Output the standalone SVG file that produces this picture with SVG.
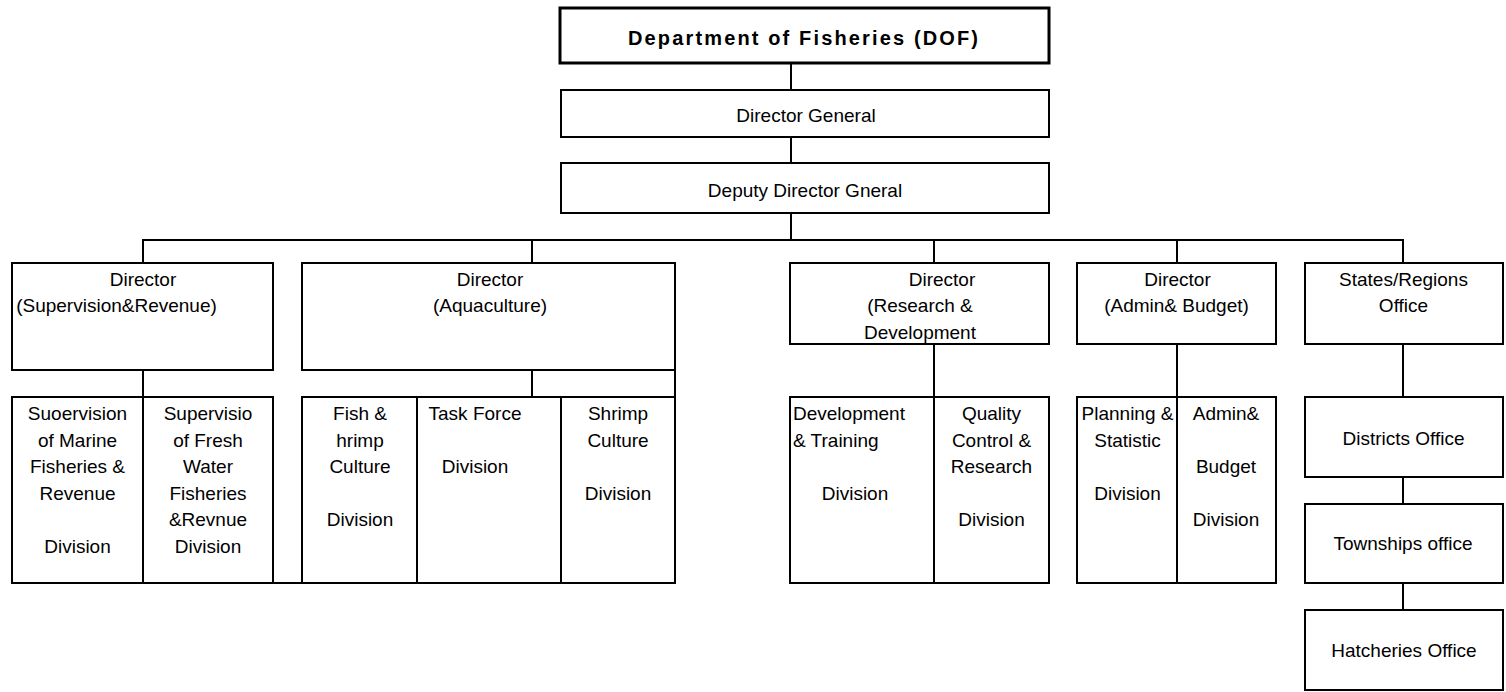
<svg xmlns="http://www.w3.org/2000/svg" width="1506" height="692" viewBox="0 0 1506 692">
<style>
  .box { fill: #ffffff; stroke: #000000; stroke-width: 2; }
  .box-main { fill: #ffffff; stroke: #000000; stroke-width: 3; }
  .conn line { stroke: #000000; stroke-width: 2; }
  text { font-family: "Liberation Sans", Arial, sans-serif; font-size: 19px; fill: #000000; }
  .c { text-anchor: middle; }
  .l { text-anchor: start; }
  .title { font-weight: bold; font-size: 20px; text-anchor: middle; }
</style>
<rect width="1506" height="692" fill="#ffffff"/>

<g id="connectors" class="conn">
  <line x1="791" y1="63" x2="791" y2="90"/>
  <line x1="791" y1="137" x2="791" y2="163"/>
  <line x1="791" y1="213" x2="791" y2="240"/>
  <line x1="142" y1="240" x2="1404" y2="240"/>
  <line x1="143" y1="240" x2="143" y2="263"/>
  <line x1="532" y1="240" x2="532" y2="263"/>
  <line x1="934" y1="240" x2="934" y2="263"/>
  <line x1="1177" y1="240" x2="1177" y2="263"/>
  <line x1="1403" y1="240" x2="1403" y2="263"/>
  <line x1="143" y1="370" x2="143" y2="397"/>
  <line x1="532" y1="370" x2="532" y2="397"/>
  <line x1="675" y1="370" x2="675" y2="397"/>
  <line x1="934" y1="344" x2="934" y2="397"/>
  <line x1="1177" y1="344" x2="1177" y2="397"/>
  <line x1="1403" y1="344" x2="1403" y2="397"/>
  <line x1="1403" y1="477" x2="1403" y2="504"/>
  <line x1="1403" y1="583" x2="1403" y2="610"/>
  <line x1="273" y1="583" x2="302" y2="583"/>
</g>

<g id="dof">
  <rect class="box-main" x="560" y="8" width="489" height="55"/>
  <text class="title" x="803" y="45" textLength="350" lengthAdjust="spacing">Department of Fisheries (DOF)</text>
</g>
<g id="director-general">
  <rect class="box" x="561" y="90" width="488" height="47"/>
  <text class="c" x="806" y="122">Director General</text>
</g>
<g id="deputy-director-general">
  <rect class="box" x="561" y="163" width="488" height="50"/>
  <text class="c" x="805" y="197">Deputy Director Gneral</text>
</g>

<g id="dir-supervision">
  <rect class="box" x="12" y="263" width="261" height="107"/>
  <text class="c" x="143" y="285.5">Director</text>
  <text class="c" x="116.5" y="312">(Supervision&amp;Revenue)</text>
</g>
<g id="dir-aquaculture">
  <rect class="box" x="302" y="263" width="373" height="107"/>
  <text class="c" x="490" y="285.5">Director</text>
  <text class="c" x="490" y="312">(Aquaculture)</text>
</g>
<g id="dir-research">
  <rect class="box" x="790" y="263" width="259" height="81"/>
  <text class="c" x="942" y="285.5">Director</text>
  <text class="c" x="920" y="312">(Research &amp;</text>
  <text class="c" x="920" y="338.5">Development</text>
</g>
<g id="dir-admin">
  <rect class="box" x="1077" y="263" width="199" height="81"/>
  <text class="c" x="1177.5" y="285.5">Director</text>
  <text class="c" x="1176.5" y="312">(Admin&amp; Budget)</text>
</g>
<g id="states-regions">
  <rect class="box" x="1305" y="263" width="198" height="81"/>
  <text class="c" x="1403.5" y="285.5">States/Regions</text>
  <text class="c" x="1403.5" y="312">Office</text>
</g>

<g id="div-marine">
  <rect class="box" x="12" y="397" width="131" height="186"/>
  <text class="c" x="77.5" y="420">Suoervision</text>
  <text class="c" x="77.5" y="446.5">of Marine</text>
  <text class="c" x="77.5" y="473">Fisheries &amp;</text>
  <text class="c" x="77.5" y="499.5">Revenue</text>
  <text class="c" x="77.5" y="553">Division</text>
</g>
<g id="div-freshwater">
  <rect class="box" x="143" y="397" width="130" height="186"/>
  <text class="c" x="208" y="420">Supervisio</text>
  <text class="c" x="208" y="446.5">of Fresh</text>
  <text class="c" x="208" y="473">Water</text>
  <text class="c" x="208" y="499.5">Fisheries</text>
  <text class="c" x="208" y="526">&amp;Revnue</text>
  <text class="c" x="208" y="553">Division</text>
</g>
<g id="div-fish-shrimp">
  <rect class="box" x="302" y="397" width="115" height="186"/>
  <text class="c" x="360" y="420">Fish &amp;</text>
  <text class="c" x="360" y="446.5">hrimp</text>
  <text class="c" x="360" y="473">Culture</text>
  <text class="c" x="360" y="526">Division</text>
</g>
<g id="div-task-force">
  <rect class="box" x="417" y="397" width="144" height="186"/>
  <text class="c" x="475" y="420">Task Force</text>
  <text class="c" x="475" y="473">Division</text>
</g>
<g id="div-shrimp">
  <rect class="box" x="561" y="397" width="114" height="186"/>
  <text class="c" x="618" y="420">Shrimp</text>
  <text class="c" x="618" y="446.5">Culture</text>
  <text class="c" x="618" y="499.5">Division</text>
</g>
<g id="div-dev-training">
  <rect class="box" x="790" y="397" width="144" height="186"/>
  <text class="l" x="793" y="420">Development</text>
  <text class="l" x="793" y="446.5">&amp; Training</text>
  <text class="c" x="855" y="499.5">Division</text>
</g>
<g id="div-quality">
  <rect class="box" x="934" y="397" width="115" height="186"/>
  <text class="c" x="991.5" y="420">Quality</text>
  <text class="c" x="991.5" y="446.5">Control &amp;</text>
  <text class="c" x="991.5" y="473">Research</text>
  <text class="c" x="991.5" y="526">Division</text>
</g>
<g id="div-planning">
  <rect class="box" x="1077" y="397" width="100" height="186"/>
  <text class="c" x="1127.5" y="420">Planning &amp;</text>
  <text class="c" x="1127.5" y="446.5">Statistic</text>
  <text class="c" x="1127.5" y="499.5">Division</text>
</g>
<g id="div-admin-budget">
  <rect class="box" x="1177" y="397" width="99" height="186"/>
  <text class="c" x="1226" y="420">Admin&amp;</text>
  <text class="c" x="1226" y="473">Budget</text>
  <text class="c" x="1226" y="526">Division</text>
</g>

<g id="districts-office">
  <rect class="box" x="1305" y="397" width="198" height="80"/>
  <text class="c" x="1403.5" y="445">Districts Office</text>
</g>
<g id="townships-office">
  <rect class="box" x="1305" y="504" width="198" height="79"/>
  <text class="c" x="1403" y="550">Townships office</text>
</g>
<g id="hatcheries-office">
  <rect class="box" x="1305" y="610" width="198" height="80"/>
  <text class="c" x="1404" y="657">Hatcheries Office</text>
</g>
</svg>
